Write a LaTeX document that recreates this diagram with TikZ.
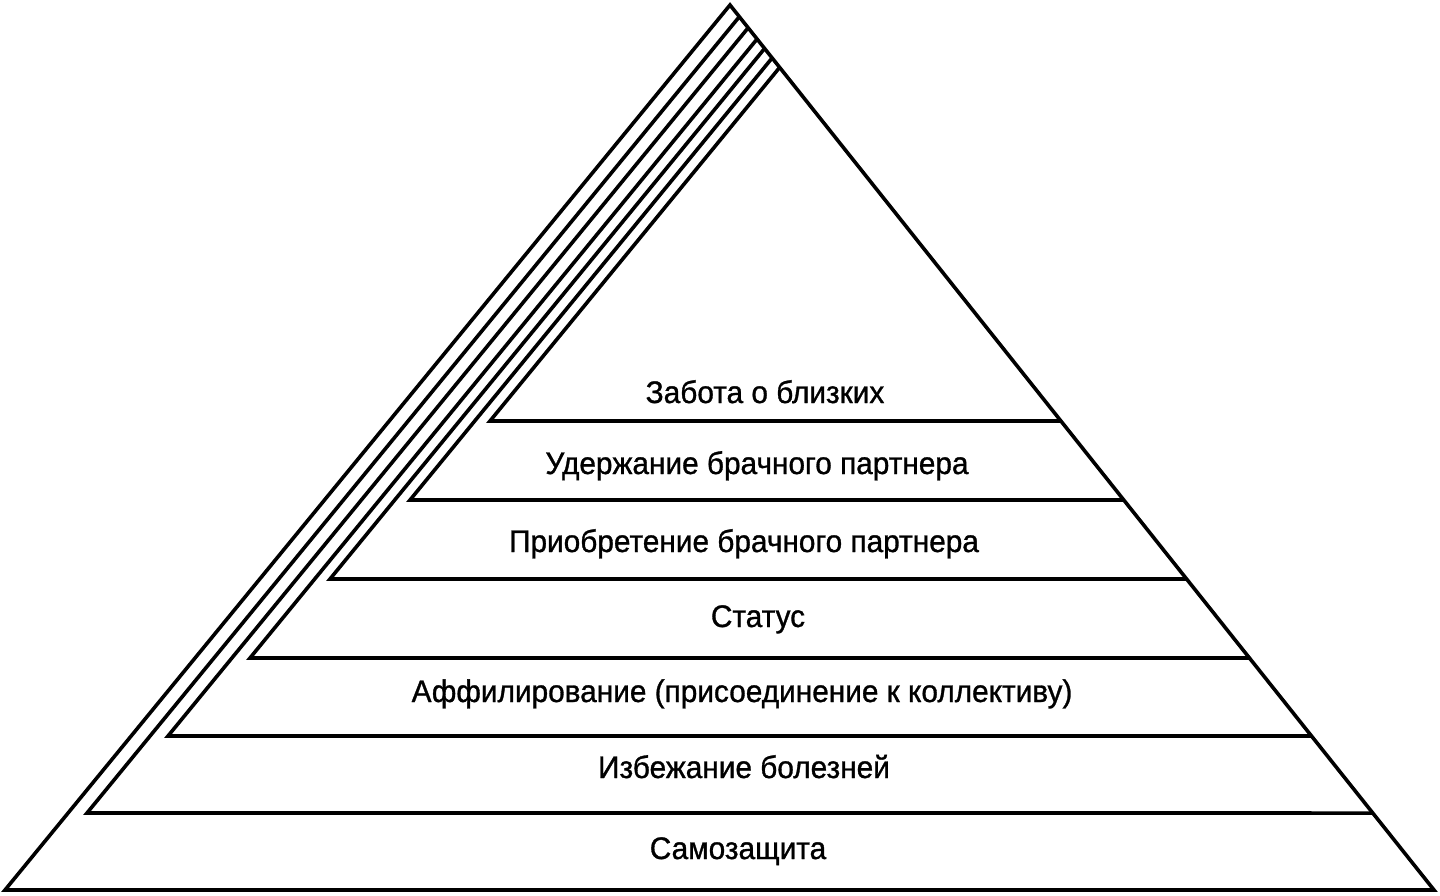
\documentclass[tikz,border=0pt]{standalone}
\usepackage{fontspec}
\setmainfont{Liberation Sans}[FakeStretch=0.955, FakeBold=1]
\usetikzlibrary{calc}

\begin{document}
\begin{tikzpicture}[x=0.5pt, y=-0.5pt, line width=1.8pt,
    level/.style={anchor=base, inner sep=0pt, font=\fontsize{15.6}{18}\selectfont}]
            \useasboundingbox (0,0) rectangle (1440,895);
            \coordinate (apex) at (730,5);
            \coordinate (bl) at (5,890);
            \coordinate (br) at (1434,890);
            \draw (apex) -- (bl) -- (br) -- cycle;
            % each step: left corner, then up along the left side to the right side
            \foreach \k/\y/\x in {1/813/87, 2/736/168, 3/658/250, 4/579/330, 5/500/410, 6/421/490} {
                \coordinate (l\k) at (\x,\y);
                \coordinate (d\k) at ($(l\k)+(725,-885)$);
                \coordinate (t\k) at (intersection of apex--br and l\k--d\k);
                \coordinate (r\k) at (intersection of apex--br and 0,\y--1440,\y);
                \draw (t\k) -- (l\k) -- (r\k);
            }
            \foreach \n/\x/\y/\t in {self/738/859/Самозащита, health/744/778/Избежание болезней,
                affil/742/702/Аффилирование (присоединение к коллективу), status/758/627/Статус,
                acquire/744/552/Приобретение брачного партнера, retain/757/474/Удержание брачного партнера,
                care/765/403/Забота о близких}
                \node[level] (\n) at (\x,\y) {\t};
        \end{tikzpicture}
\end{document}
